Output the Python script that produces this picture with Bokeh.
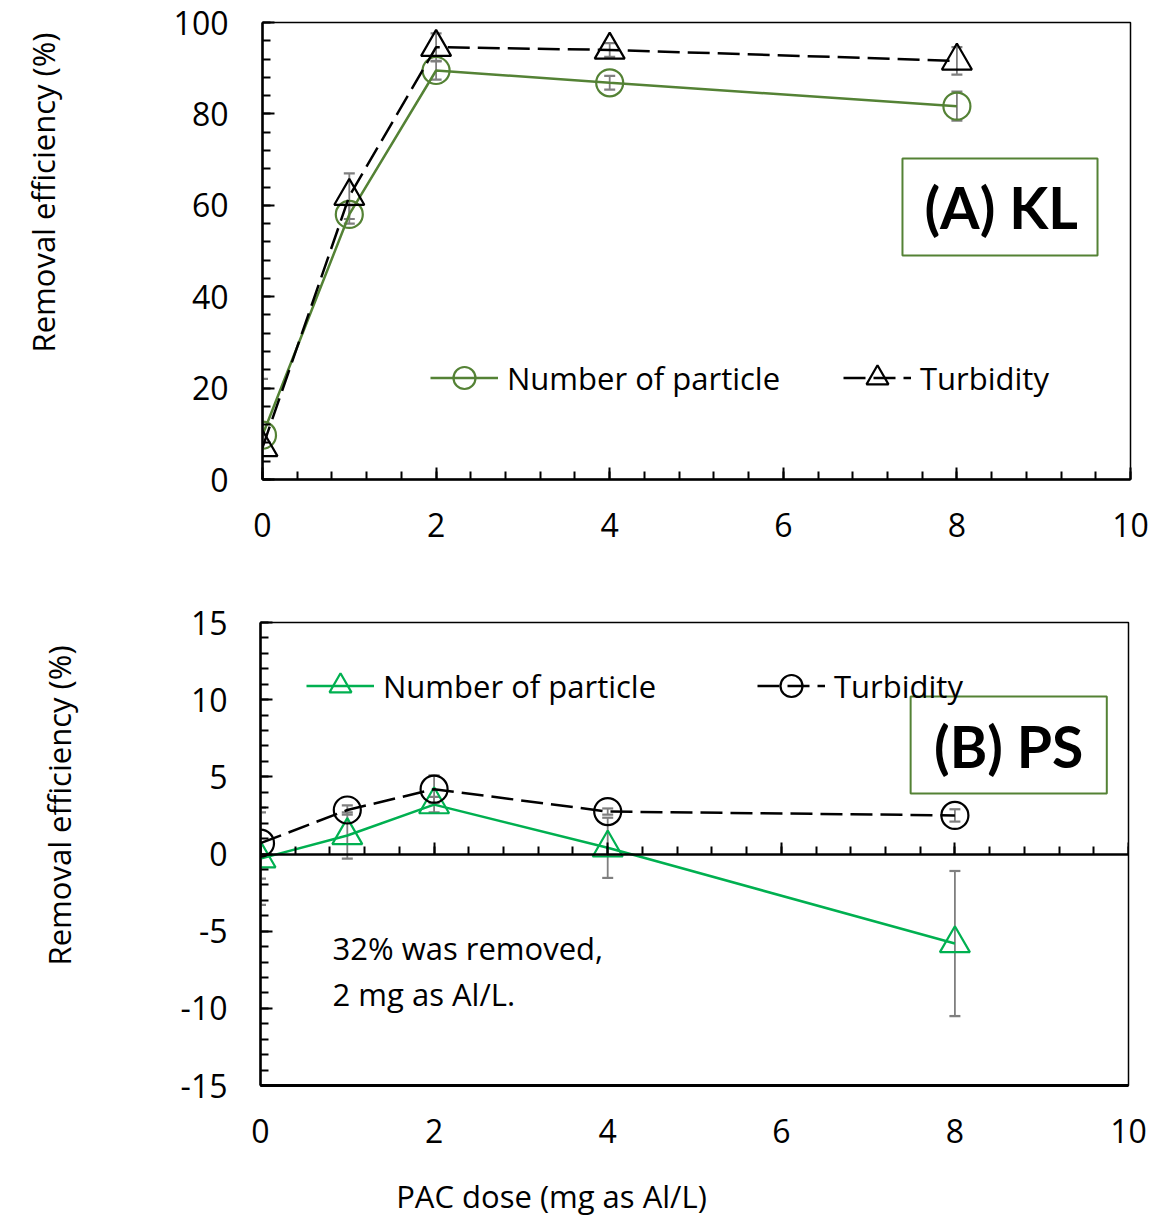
import math
from bokeh.plotting import figure
from bokeh.models import (ColumnDataSource, Whisker, TeeHead, Legend, LegendItem, Label,
                          BoxAnnotation, SingleIntervalTicker, LinearAxis, Range1d,
                          PrintfTickFormatter)
from bokeh.layouts import column, row
from bokeh.embed import file_html
from bokeh.resources import INLINE

# ---------------- data ----------------
dose = [0, 1, 2, 4, 8]

kl_particle = [9.7, 58.0, 89.5, 86.8, 81.7]
kl_particle_err = [0.0, 2.0, 2.0, 1.5, 3.2]
kl_turbidity = [7.0, 62.0, 94.6, 94.0, 91.6]
kl_turbidity_err = [15.0, 5.0, 3.0, 1.5, 3.0]

ps_particle = [-0.3, 1.2, 3.2, 0.4, -5.8]
ps_particle_err = [3.0, 1.5, 0.5, 1.95, 4.7]
ps_turbidity = [0.7, 2.85, 4.2, 2.75, 2.5]
ps_turbidity_err = [2.3, 0.3, 0.9, 0.2, 0.4]

legend_labels = ["Number of particle", "Turbidity"]
y_label = "Removal efficiency (%)"
x_label = "PAC dose (mg as Al/L)"
panel_a = "(A) KL"
panel_b = "(B) PS"
note_lines = ["32% was removed,", "2 mg as Al/L."]

# ---------------- styles ----------------
FONT = "Open Sans"
BOLD_FONT = "Lato"
OLIVE = "#548235"
GREEN = "#00B050"
GREY = "#7f7f7f"
LAB_W = 80
MAIN_W = 1080
TXT = "31px"
TICK = "32px"


def style_axis(ax, tick_in=True):
    ax.axis_line_color = "black"
    ax.axis_line_width = 2.5
    ax.major_tick_line_color = "black"
    ax.minor_tick_line_color = "black"
    ax.major_tick_line_width = 2
    ax.minor_tick_line_width = 2
    ax.major_tick_in = 12 if tick_in else 0
    ax.minor_tick_in = 8 if tick_in else 0
    ax.major_tick_out = 0
    ax.minor_tick_out = 0
    ax.major_label_text_font = FONT
    ax.major_label_text_font_size = TICK
    ax.major_label_text_color = "black"
    ax.formatter = PrintfTickFormatter(format="%d")


def base_fig(height, yr, borders):
    l, r, t, b = borders
    p = figure(width=MAIN_W, height=height, x_range=Range1d(0, 10), y_range=Range1d(*yr),
               output_backend="svg", toolbar_location=None,
               min_border_left=l, min_border_right=r, min_border_top=t, min_border_bottom=b)
    p.xgrid.visible = False
    p.ygrid.visible = False
    p.outline_line_color = "black"
    p.outline_line_width = 1.5
    p.background_fill_color = "white"
    p.border_fill_color = "white"
    return p


def text_fig(width, height):
    f = figure(width=width, height=height, x_range=Range1d(0, width), y_range=Range1d(0, height),
               x_axis_type=None, y_axis_type=None, output_backend="svg", toolbar_location=None,
               min_border=0)
    f.outline_line_color = None
    f.background_fill_color = "white"
    f.border_fill_color = "white"
    return f


def add_whiskers(p, xs, vals, errs, ymin):
    upper = [v + e for v, e in zip(vals, errs)]
    lower = [max(v - e, ymin) for v, e in zip(vals, errs)]
    src = ColumnDataSource(dict(x=xs, upper=upper, lower=lower))
    w = Whisker(base="x", upper="upper", lower="lower", source=src,
                line_color=GREY, line_width=1.8,
                upper_head=TeeHead(size=11, line_color=GREY, line_width=2.2),
                lower_head=TeeHead(size=11, line_color=GREY, line_width=2.2))
    p.add_layout(w)


def add_legend(p, label, renderers, x, y):
    leg = Legend(items=[LegendItem(label=label, renderers=renderers)],
                 location=(x, y), orientation="horizontal",
                 glyph_width=68, glyph_height=55, label_standoff=9,
                 padding=0, margin=0, border_line_color=None,
                 background_fill_alpha=0, label_text_font=FONT,
                 label_text_font_size=TXT, label_text_color="black")
    p.add_layout(leg)


# ================= panel A =================
TOP_H = 578
pa = base_fig(TOP_H, (0, 100), (262 - LAB_W, 30, 22, 99))
pa.xaxis.ticker = SingleIntervalTicker(interval=2, num_minor_ticks=5)
pa.yaxis.ticker = SingleIntervalTicker(interval=20, num_minor_ticks=5)
style_axis(pa.xaxis[0])
style_axis(pa.yaxis[0])
pa.xaxis.major_label_standoff = 33
pa.yaxis.major_label_standoff = 34

add_whiskers(pa, dose, kl_turbidity, kl_turbidity_err, 0)
add_whiskers(pa, dose, kl_particle, kl_particle_err, 0)

la1 = pa.line(dose, kl_particle, line_color=OLIVE, line_width=2.5)
sa1 = pa.scatter(dose, kl_particle, marker="circle", size=27, line_color=OLIVE,
                 line_width=2.2, fill_color=None)
la2 = pa.line(dose, kl_turbidity, line_color="black", line_width=2.5, line_dash="22 8")
sa2 = pa.scatter(dose, kl_turbidity, marker="triangle", size=30, line_color="black",
                 line_width=2.2, fill_color=None)

add_legend(pa, legend_labels[0], [la1, sa1], 168, 74)
add_legend(pa, legend_labels[1], [la2, sa2], 581, 74)

pa.add_layout(BoxAnnotation(left=7.373, right=9.62, bottom=49.0, top=70.24,
                            fill_alpha=0, line_color=OLIVE, line_alpha=1, line_width=2))
pa.add_layout(Label(x=8.51, y=59.6, text=panel_a, text_align="center",
                    text_baseline="middle", text_font=BOLD_FONT, text_font_style="bold",
                    text_font_size="57px", text_color="black"))

lab_a = text_fig(LAB_W, TOP_H)
lab_a.add_layout(Label(x=42, y=TOP_H - 215, text=y_label, angle=math.pi / 2,
                       text_align="center", text_baseline="middle", text_font=FONT,
                       text_font_size=TXT, text_color="black"))

# ================= panel B =================
BOT_H = 582
pb = base_fig(BOT_H, (-15, 15), (260 - LAB_W, 32, 44, BOT_H - 44 - 463))
pb.xaxis.ticker = SingleIntervalTicker(interval=2, num_minor_ticks=5)
pb.yaxis.ticker = SingleIntervalTicker(interval=5, num_minor_ticks=5)
style_axis(pb.xaxis[0], tick_in=False)
style_axis(pb.yaxis[0])
pb.xaxis.axis_line_width = 3
pb.xaxis.major_label_standoff = 33
pb.yaxis.major_label_standoff = 33

zero_axis = LinearAxis(fixed_location=0, ticker=SingleIntervalTicker(interval=2, num_minor_ticks=5))
zero_axis.axis_line_color = "black"
zero_axis.axis_line_width = 2.5
zero_axis.major_tick_line_color = "black"
zero_axis.minor_tick_line_color = "black"
zero_axis.major_tick_line_width = 2
zero_axis.minor_tick_line_width = 2
zero_axis.major_tick_in = 0
zero_axis.minor_tick_in = 0
zero_axis.major_tick_out = 12
zero_axis.minor_tick_out = 8
zero_axis.major_label_text_color = None
zero_axis.major_label_text_font_size = "1px"
zero_axis.major_label_standoff = 0
pb.add_layout(zero_axis, "above")

add_whiskers(pb, dose, ps_turbidity, ps_turbidity_err, -15)
add_whiskers(pb, dose, ps_particle, ps_particle_err, -15)

lb1 = pb.line(dose, ps_particle, line_color=GREEN, line_width=2.5)
sb1 = pb.scatter(dose, ps_particle, marker="triangle", size=30, line_color=GREEN,
                 line_width=2.2, fill_color=None)
lb2 = pb.line(dose, ps_turbidity, line_color="black", line_width=2.5, line_dash="22 8")
sb2 = pb.scatter(dose, ps_turbidity, marker="circle", size=27, line_color="black",
                 line_width=2.2, fill_color=None)

add_legend(pb, legend_labels[0], [lb1, sb1], 46, 372)
add_legend(pb, legend_labels[1], [lb2, sb2], 497, 372)

pb.add_layout(BoxAnnotation(left=7.49, right=9.75, bottom=3.92, top=10.2,
                            fill_alpha=0, line_color=OLIVE, line_alpha=1, line_width=2))
pb.add_layout(Label(x=8.62, y=7.0, text=panel_b, text_align="center",
                    text_baseline="middle", text_font=BOLD_FONT, text_font_style="bold",
                    text_font_size="57px", text_color="black"))
pb.add_layout(Label(x=0.83, y=-6.06, text=note_lines[0], text_align="left",
                    text_baseline="middle", text_font=FONT, text_font_size=TXT,
                    text_color="black"))
pb.add_layout(Label(x=0.83, y=-9.04, text=note_lines[1], text_align="left",
                    text_baseline="middle", text_font=FONT, text_font_size=TXT,
                    text_color="black"))

lab_b = text_fig(LAB_W, BOT_H)
lab_b.add_layout(Label(x=58, y=BOT_H - (808 - TOP_H), text=y_label, angle=math.pi / 2,
                       text_align="center", text_baseline="middle", text_font=FONT,
                       text_font_size=TXT, text_color="black"))

# x axis title strip
XL_H = 58
xfig = text_fig(LAB_W + MAIN_W, XL_H)
xfig.add_layout(Label(x=551, y=XL_H - (1195 - TOP_H - BOT_H), text=x_label,
                      text_align="center", text_baseline="middle", text_font=FONT,
                      text_font_size=TXT, text_color="black"))

layout = column(row(lab_a, pa, spacing=0), row(lab_b, pb, spacing=0), xfig, spacing=0)
open("out.html", "w").write(file_html(layout, INLINE))
